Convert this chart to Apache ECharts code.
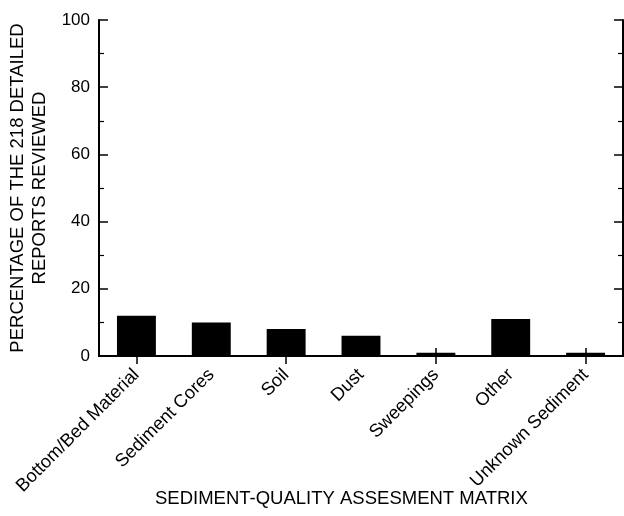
<!DOCTYPE html>
<html>
<head>
<meta charset="utf-8">
<script src="https://cdn.jsdelivr.net/npm/echarts@6/dist/echarts.min.js"></script>
<style>
  html, body { margin: 0; padding: 0; background: #fff; }
  #chart { width: 624px; height: 516px; }
</style>
</head>
<body>
<div id="chart"></div>
<script>
// categories and values (percent of the 218 detailed reports)
var categories = ['Bottom/Bed Material', 'Sediment Cores', 'Soil', 'Dust', 'Sweepings', 'Other', 'Unknown Sediment']
var percentValues = [12, 10, 8, 6, 1, 11, 1]
var yTicks = [0, 20, 40, 60, 80, 100]

var font = 'Liberation Sans, Arial, Helvetica, sans-serif'
var chart = echarts.init(document.getElementById('chart'))

var yBase = {
  type: 'value',
  min: yTicks[0],
  max: yTicks[yTicks.length - 1],
  interval: yTicks[1] - yTicks[0],
  axisLine: { show: true, lineStyle: { color: '#000', width: 2 } },
  axisTick: { show: true, inside: true, length: 9, lineStyle: { color: '#000', width: 1.5 } },
  minorTick: { show: true, splitNumber: 2, length: 5, lineStyle: { color: '#000', width: 1.2 } },
  splitLine: { show: false }
}

var xTick = { show: true, inside: true, alignWithLabel: true, length: 8, lineStyle: { color: '#000', width: 1.5 } }

chart.setOption({
  animation: false,
  title: {
    text: 'SEDIMENT-QUALITY ASSESMENT MATRIX',
    left: 155,
    top: 489,
    padding: 0,
    textStyle: { color: '#000', fontSize: 18.5, fontWeight: 'normal', fontFamily: font }
  },
  grid: { left: 99, right: 1, top: 20, bottom: 160, outerBoundsMode: 'none' },
  xAxis: [
    {
      type: 'category',
      data: categories,
      position: 'bottom',
      axisLine: { lineStyle: { color: '#000', width: 2 } },
      axisTick: xTick,
      axisLabel: { rotate: 45, margin: 16, color: '#000', fontSize: 18.3, fontFamily: font, interval: 0 }
    },
    {
      type: 'category',
      data: categories,
      position: 'top',
      axisLine: { lineStyle: { color: '#000', width: 2 } },
      axisTick: xTick,
      axisLabel: { show: false }
    }
  ],
  yAxis: [
    Object.assign({}, yBase, {
      position: 'left',
      name: 'PERCENTAGE OF THE 218 DETAILED\nREPORTS REVIEWED',
      nameLocation: 'middle',
      nameRotate: 90,
      nameGap: 45,
      nameTextStyle: { color: '#000', fontSize: 18.5, fontFamily: font, lineHeight: 22 },
      axisLabel: { color: '#000', fontSize: 17, fontFamily: font, margin: 9 }
    }),
    Object.assign({}, yBase, {
      position: 'right',
      axisLabel: { show: false }
    })
  ],
  series: [
    {
      type: 'bar',
      data: percentValues,
      barWidth: '52%',
      itemStyle: { color: '#000' }
    }
  ]
})
</script>
</body>
</html>
